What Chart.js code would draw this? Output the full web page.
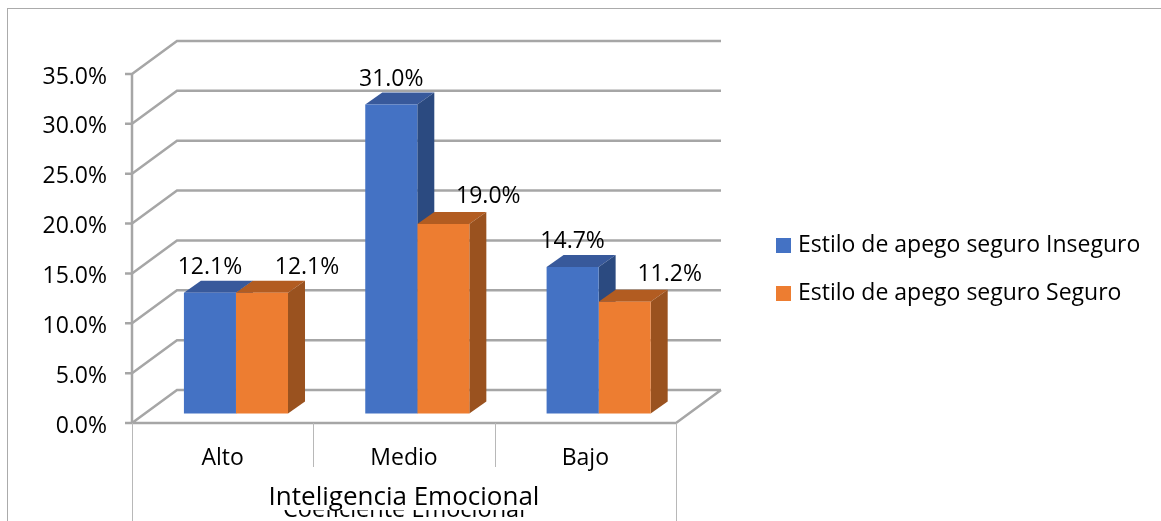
<!DOCTYPE html>
<html>
<head>
<meta charset="utf-8">
<title>Estilo de apego</title>
<script src="https://cdn.jsdelivr.net/npm/chart.js@4/dist/chart.umd.min.js"></script>
<style>
  html, body { margin: 0; padding: 0; background: #fff; overflow: hidden; }
  #wrap { position: relative; width: 1161px; height: 521px; }
  #frame { position: absolute; left: 7px; top: 8px; right: 0; bottom: -5px; border: 1px solid #ababab; border-right: 0; border-bottom: 0; }
  canvas { position: absolute; left: 0; top: 0; }
</style>
</head>
<body>
<div id="wrap">
  <div id="frame"></div>
  <canvas id="chart" width="1161" height="521"></canvas>
</div>
<script>
// Chart data
const categories = ['Alto', 'Medio', 'Bajo'];
const inseguro = [12.1, 31.0, 14.7];
const seguro = [12.1, 19.0, 11.2];
const seriesNames = ['Estilo de apego seguro Inseguro', 'Estilo de apego seguro Seguro'];
const axisTitle = 'Inteligencia Emocional';
const hiddenTitle = 'Coeficiente Emocional';

const FONT = '"Open Sans", sans-serif';
const GRID = '#a6a6a6';
const WALL = { dx: 45, dy: -33 };    // back wall offset
const BAR = { dx: 13.3, dy: -9.5 };  // bars stand on the floor, off the front edge
const DEPTH = { dx: 17, dy: -12 };   // depth of the bars
const colors = [
    { face: '#4472c4', top: '#38599b', side: '#2b4a80' },
    { face: '#ed7d31', top: '#b25c21', side: '#9a521f' }
];
// second series labels sit to the right of the bar, some were moved up by hand
const labelShift = [0, 45];
const labelLift = [[1, 0, 1], [1, 3, 3]];

function poly(ctx, pts, color) {
    ctx.fillStyle = color;
    ctx.beginPath();
    pts.forEach((p, i) => i ? ctx.lineTo(p[0], p[1]) : ctx.moveTo(p[0], p[1]));
    ctx.closePath();
    ctx.fill();
}

// Walls, floor and the lines below the axis
const wallsPlugin = {
    id: 'walls',
    beforeDatasetsDraw(chart) {
        const { ctx, chartArea: a, scales: { y } } = chart;
        ctx.save();
        ctx.strokeStyle = GRID;
        ctx.lineWidth = 2.5;
        y.ticks.forEach(t => {
            const py = y.getPixelForValue(t.value);
            ctx.beginPath();
            ctx.moveTo(a.left - 7, py);
            ctx.lineTo(a.left, py);
            ctx.lineTo(a.left + WALL.dx, py + WALL.dy);
            ctx.lineTo(a.right + WALL.dx, py + WALL.dy);
            if (t.value === 0) {
                ctx.moveTo(a.left, py);
                ctx.lineTo(a.right, py);
                ctx.lineTo(a.right + WALL.dx, py + WALL.dy);
            }
            ctx.stroke();
        });
        ctx.beginPath();
        ctx.moveTo(a.left, a.top);
        ctx.lineTo(a.left, a.bottom);
        ctx.stroke();
        // tick labels sit a little lower than the library puts them
        ctx.fillStyle = '#000';
        ctx.font = '23px ' + FONT;
        ctx.textAlign = 'right';
        ctx.textBaseline = 'middle';
        y.ticks.forEach(t => ctx.fillText(t.label, a.left - 25, y.getPixelForValue(t.value) + 3));
        // category separators
        ctx.strokeStyle = '#b8b8b8';
        ctx.lineWidth = 1;
        const step = (a.right - a.left) / categories.length;
        for (let i = 0; i <= categories.length; i++) {
            const px = Math.round(a.left + i * step) + 0.5;
            const outer = i === 0 || i === categories.length;
            ctx.beginPath();
            ctx.moveTo(px, a.bottom);
            ctx.lineTo(px, outer ? chart.height : a.bottom + 44);
            ctx.stroke();
        }
        // tops and sides of the bars, blue first so orange covers its side.
        // The library then draws the fronts over all of this.
        ctx.translate(BAR.dx, BAR.dy);
        chart.data.datasets.forEach((ds, i) => {
            const c = colors[i];
            chart.getDatasetMeta(i).data.forEach(bar => {
                const l = bar.x - bar.width / 2, r = bar.x + bar.width / 2;
                poly(ctx, [[l, bar.y], [l + DEPTH.dx, bar.y + DEPTH.dy], [r + DEPTH.dx, bar.y + DEPTH.dy], [r, bar.y]], c.top);
                poly(ctx, [[r, bar.y], [r + DEPTH.dx, bar.y + DEPTH.dy], [r + DEPTH.dx, bar.base + DEPTH.dy], [r, bar.base]], c.side);
            });
        });
        ctx.restore();
    },
    beforeDatasetDraw(chart) {
        chart.ctx.save();
        chart.ctx.translate(BAR.dx, BAR.dy);
    },
    afterDatasetDraw(chart) {
        chart.ctx.restore();
    },
    afterLayout(chart) {
        // put the legend out to the right of the plot
        const lg = chart.legend;
        lg.left = 755.5;
        lg.right = 1161;
        lg.top = 209;
        lg.bottom = 340;
    },
    afterDraw(chart) {
        const { ctx } = chart;
        ctx.save();
        ctx.fillStyle = '#000';
        ctx.font = '23px ' + FONT;
        ctx.textAlign = 'center';
        ctx.textBaseline = 'middle';
        chart.data.datasets.forEach((ds, i) => {
            chart.getDatasetMeta(i).data.forEach((bar, j) => {
                ctx.fillText(ds.data[j].toFixed(1) + '%', bar.x + BAR.dx + labelShift[i], bar.y + BAR.dy - 24.5 - labelLift[i][j]);
            });
        });
        // old axis title peeking out under the current one
        ctx.beginPath();
        ctx.rect(0, 510, chart.width, 9);
        ctx.clip();
        ctx.font = '23.5px ' + FONT;
        ctx.fillText(hiddenTitle, 404, 510);
        ctx.restore();
    }
};

new Chart(document.getElementById('chart'), {
    type: 'bar',
    data: {
        labels: categories,
        datasets: [
            { label: seriesNames[0], data: inseguro, backgroundColor: colors[0].face },
            { label: seriesNames[1], data: seguro, backgroundColor: colors[1].face }
        ]
    },
    options: {
        responsive: false,
        animation: false,
        layout: { padding: { left: 0, top: 74, right: 485, bottom: 0 } },
        datasets: { bar: { categoryPercentage: 0.574, barPercentage: 1, clip: false } },
        plugins: {
            legend: {
                position: 'chartArea',
                align: 'start',
                labels: {
                    // small box with a wide stroke, brings the text closer to the swatch
                    boxWidth: 6,
                    boxHeight: 6,
                    padding: 25,
                    color: '#000',
                    font: { family: FONT, size: 23 },
                    generateLabels(chart) {
                        return Chart.defaults.plugins.legend.labels.generateLabels(chart).map(item => {
                            item.lineWidth = 9;
                            item.strokeStyle = item.fillStyle;
                            return item;
                        });
                    }
                }
            },
            tooltip: { enabled: false }
        },
        scales: {
            x: {
                grid: { display: false, drawTicks: false },
                border: { display: false },
                ticks: { color: '#000', font: { family: FONT, size: 23 }, padding: 22, maxRotation: 0 },
                title: {
                    display: true,
                    text: axisTitle,
                    color: '#000',
                    font: { family: FONT, size: 26 },
                    padding: { top: 0, bottom: 8 }
                },
                afterFit(scale) { scale.height = 98; }
            },
            y: {
                min: 0,
                max: 35,
                grid: { display: false, drawTicks: false },
                border: { display: false },
                ticks: {
                    display: false,
                    stepSize: 5,
                    callback: v => v.toFixed(1) + '%'
                },
                afterFit(scale) { scale.width = 132; }
            }
        }
    },
    plugins: [wallsPlugin]
});
</script>
</body>
</html>
